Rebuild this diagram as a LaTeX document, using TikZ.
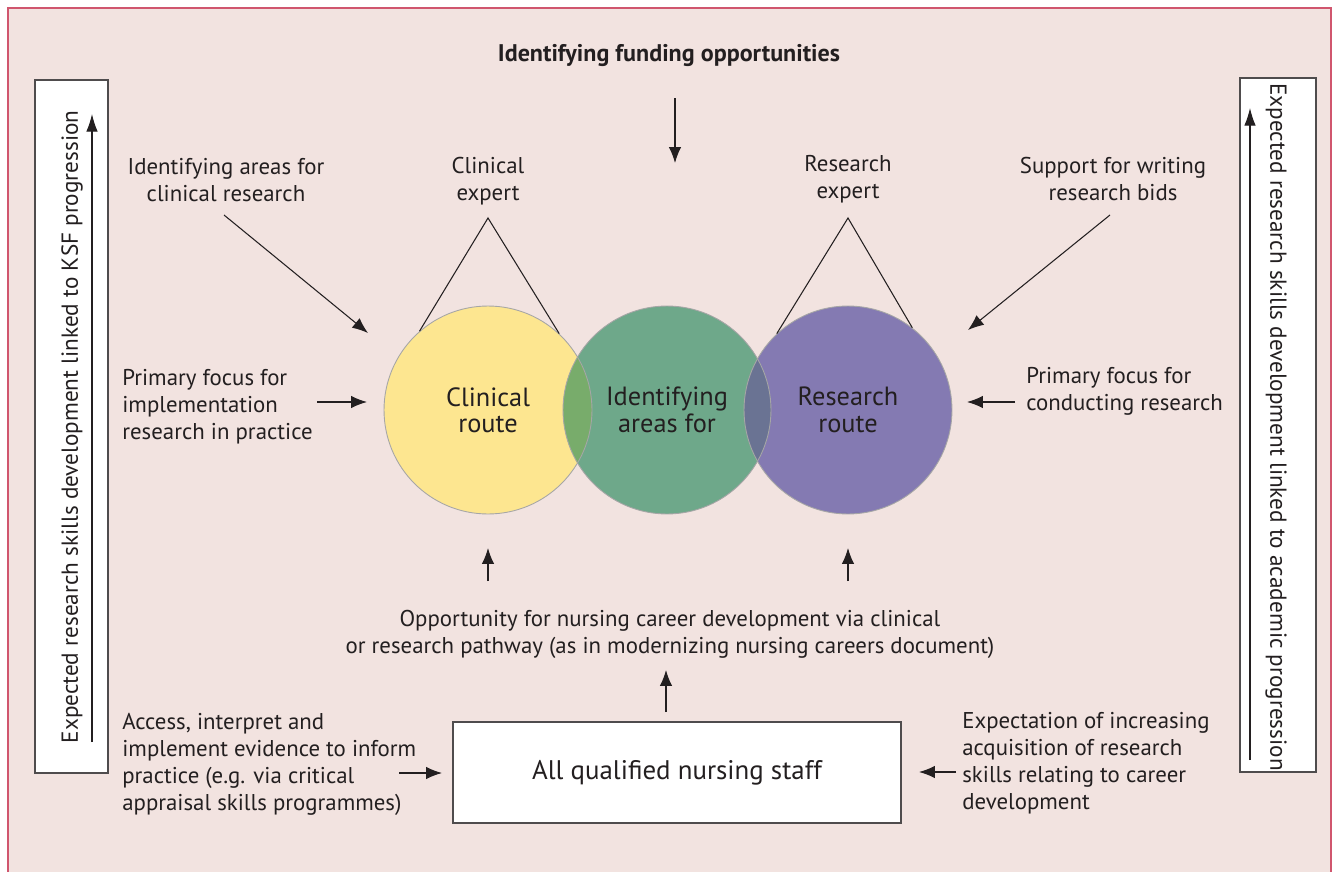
\documentclass[tikz,border=0pt]{standalone}
\usepackage{fontspec}
\setmainfont{PT Sans}
\usetikzlibrary{arrows.meta,positioning}

\definecolor{pagebg}{HTML}{F2E3E0}
\definecolor{framered}{HTML}{D0566E}
\definecolor{inkgray}{HTML}{231F20}
\definecolor{clinyellow}{HTML}{FDE690}
\definecolor{midgreen}{HTML}{6EA88A}
\definecolor{respurple}{HTML}{847AB2}
\definecolor{lensgreen}{HTML}{78AC6B}
\definecolor{lensslate}{HTML}{6A7393}

\begin{document}
\begin{tikzpicture}[x=0.02cm, y=-0.02cm,
  note/.style={font=\fontsize{13}{15.4}\selectfont, align=center, text=inkgray, inner sep=0pt},
  lnote/.style={note, align=left, anchor=west},
  route/.style={circle, draw=gray!70, line width=0.5pt, minimum size=4.16cm, inner sep=0pt,
    font=\fontsize{15}{15}\selectfont, align=center, text=inkgray},
  staffbox/.style={draw=inkgray!80, fill=white, line width=0.8pt, minimum width=8.96cm,
    minimum height=2.02cm, font=\fontsize{15.3}{17}\selectfont, text=inkgray},
  sidebox/.style={draw=inkgray!80, fill=white, line width=0.8pt, inner sep=0pt},
  side/.style={font=\fontsize{13.2}{15}\selectfont, text=inkgray, inner sep=0pt},
  arrow/.style={-{Latex[length=9pt, width=7pt]}, line width=0.6pt, inkgray},
  uparrow/.style={-{Latex[length=10pt, width=6.5pt]}, line width=0.6pt, inkgray},
  apex/.style={line width=0.6pt, inkgray},
]

% Page and frame (open at the bottom)
\useasboundingbox (0,0) rectangle (1336,872);
\fill[white] (0,0) rectangle (1336,872);
\fill[pagebg] (8,8) rectangle (1331,872);
\draw[framered, line width=1pt] (8,872) -- (8,8) -- (1331,8) -- (1331,872);

% Funding at the top
\node[note, font=\fontsize{13.7}{15.4}\selectfont\bfseries] (funding) at (669,55) {Identifying funding opportunities};
\coordinate (fundtail) at (675,98);
\coordinate (fundtip) at (675,163);
\draw[arrow] (fundtail) -- (fundtip);

% Three overlapping routes
\fill[clinyellow] (488,410) circle (2.08cm);
\fill[respurple] (848,410) circle (2.08cm);
\fill[midgreen] (667,410) circle (2.08cm);
\begin{scope}
  \clip (488,410) circle (2.08cm);
  \fill[lensgreen] (667,410) circle (2.08cm);
\end{scope}
\begin{scope}
  \clip (848,410) circle (2.08cm);
  \fill[lensslate] (667,410) circle (2.08cm);
\end{scope}
\node[route] (clinical) at (488,410) {Clinical\\route};
\node[route] (identify) at (667,410) {Identifying\\areas for};
\node[route] (research) at (848,410) {Research\\route};

% Expert roles above the routes
\node[note] (clinexpert) at (488,181) {Clinical\\expert};
\node[note] (resexpert) at (848,179) {Research\\expert};
\coordinate (clinapex) at (488,218);
\coordinate (resapex) at (848,218);
\draw[apex] (clinical.131) -- (clinapex) -- (clinical.47);
\draw[apex] (research.133) -- (resapex) -- (research.52);

% Inputs on the left
\node[note] (areas) at (226,180) {Identifying areas for\\clinical research};
\coordinate (areastail) at (224,215);
\coordinate (areastip) at (368,333);
\draw[arrow] (areastail) -- (areastip);

\node[lnote] (implfocus) at (122,407) {Primary focus for\\implementation\\research in practice};
\coordinate (impltail) at (317,402);
\coordinate (impltip) at (367,402);
\draw[arrow] (impltail) -- (impltip);

% Inputs on the right
\node[note] (bids) at (1113,179) {Support for writing\\research bids};
\coordinate (bidstail) at (1110,215);
\coordinate (bidstip) at (968,330);
\draw[arrow] (bidstail) -- (bidstip);

\node[lnote] (condfocus) at (1026,391) {Primary focus for\\conducting research};
\coordinate (condtail) at (1015,402);
\coordinate (condtip) at (967,402);
\draw[arrow] (condtail) -- (condtip);

% Career pathway
\node[note] (pathway) at (670,634) {Opportunity for nursing career development via clinical\\or research pathway (as in modernizing nursing careers document)};
\coordinate (clinliftail) at (488,581);
\coordinate (clinliftip) at (488,548);
\coordinate (resliftail) at (848,581);
\coordinate (resliftip) at (848,548);
\draw[arrow] (clinliftail) -- (clinliftip);
\draw[arrow] (resliftail) -- (resliftip);

% All staff
\node[staffbox] (staff) at (677,772.5) {All qualified nursing staff};
\coordinate (stafftail) at (666,712);
\coordinate (stafftip) at (666,670);
\draw[arrow] (stafftail) -- (stafftip);

\node[lnote] (evidence) at (122,764) {Access, interpret and\\implement evidence to inform\\practice (e.g. via critical\\appraisal skills programmes)};
\coordinate (evtail) at (399,773);
\coordinate (evtip) at (442,773);
\draw[arrow] (evtail) -- (evtip);

\node[lnote] (expect) at (962,763) {Expectation of increasing\\acquisition of research\\skills relating to career\\development};
\coordinate (exptail) at (956,772);
\coordinate (exptip) at (919,772);
\draw[arrow] (exptail) -- (exptip);

% Progression bars at the sides
\node[sidebox, minimum width=1.46cm, minimum height=13.86cm] (ksfbox) at (71.5,426.5) {};
\node[side, rotate=90] (ksf) at (72,427) {Expected research skills development linked to KSF progression};
\coordinate (ksftail) at (92,742);
\coordinate (ksftip) at (92,114);
\draw[uparrow] (ksftail) -- (ksftip);

\node[sidebox, minimum width=1.52cm, minimum height=13.88cm] (acadbox) at (1278,425) {};
\node[side, rotate=-90] (acad) at (1276,427) {Expected research skills development linked to academic progression};
\coordinate (acadtail) at (1250,760);
\coordinate (acadtip) at (1250,108);
\draw[uparrow] (acadtail) -- (acadtip);

\end{tikzpicture}
\end{document}
